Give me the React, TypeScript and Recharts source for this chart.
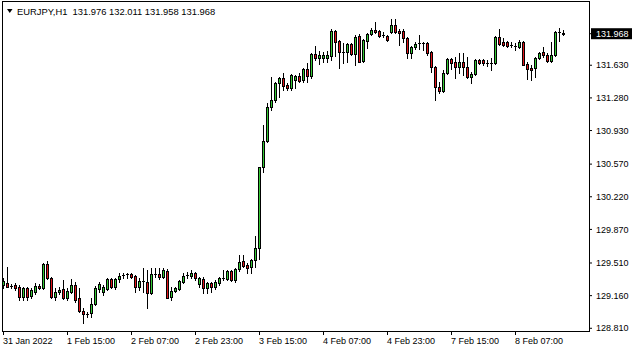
import React from "react"
import { ComposedChart, Bar, XAxis, YAxis } from "recharts"

// EURJPY H1 candles, oldest first (31 Jan 23:00 .. 8 Feb 19:00)
const opens = [
  129.274, 129.296, 129.264, 129.274, 129.253, 129.146, 129.242, 129.157, 129.199, 129.264,
  129.242, 129.499, 129.349, 129.146, 129.199, 129.232, 129.135, 129.199, 129.274, 129.135,
  128.996, 128.964, 128.974, 129.071, 129.232, 129.199, 129.232, 129.339, 129.253, 129.339,
  129.382, 129.392, 129.392, 129.371, 129.253, 129.317, 129.307, 129.189, 129.392, 129.392,
  129.360, 129.424, 129.146, 129.210, 129.232, 129.307, 129.382, 129.371, 129.403, 129.285,
  129.339, 129.242, 129.296, 129.253, 129.296, 129.349, 129.339, 129.424, 129.328, 129.446,
  129.532, 129.489, 129.467, 129.542, 129.671, 130.539, 130.818, 131.182, 131.257, 131.439,
  131.493, 131.418, 131.386, 131.472, 131.514, 131.472, 131.589, 131.514, 131.750, 131.707,
  131.707, 131.707, 131.729, 131.997, 131.890, 131.772, 131.772, 131.857, 131.750, 131.943,
  131.675, 131.890, 131.965, 132.007, 131.997, 131.954, 131.943, 131.986, 132.061, 131.997,
  131.997, 131.922, 131.761, 131.825, 131.868, 131.868, 131.868, 131.772, 131.611, 131.397,
  131.354, 131.547, 131.697, 131.665, 131.611, 131.665, 131.611, 131.504, 131.536, 131.686,
  131.686, 131.654, 131.654, 131.654, 131.932, 131.879, 131.879, 131.847, 131.836, 131.825,
  131.879, 131.643, 131.600, 131.600, 131.707, 131.772, 131.740, 131.675, 131.740, 131.986,
  131.976,
]
const highs = [
  129.349, 129.467, 129.285, 129.296, 129.274, 129.253, 129.253, 129.242, 129.296, 129.285,
  129.510, 129.532, 129.360, 129.242, 129.253, 129.328, 129.242, 129.339, 129.307, 129.242,
  129.028, 128.985, 129.135, 129.264, 129.307, 129.274, 129.349, 129.349, 129.349, 129.403,
  129.403, 129.403, 129.403, 129.382, 129.349, 129.457, 129.435, 129.457, 129.457, 129.457,
  129.457, 129.446, 129.253, 129.253, 129.328, 129.403, 129.414, 129.435, 129.414, 129.360,
  129.360, 129.307, 129.307, 129.328, 129.360, 129.435, 129.435, 129.435, 129.457, 129.596,
  129.596, 129.510, 129.553, 129.800, 130.539, 130.989, 131.225, 131.504, 131.450, 131.504,
  131.547, 131.439, 131.536, 131.525, 131.547, 131.600, 131.654, 131.761, 131.836, 131.782,
  131.772, 131.782, 132.018, 132.007, 131.900, 131.868, 131.868, 131.868, 131.954, 131.965,
  131.911, 131.975, 132.029, 132.093, 132.007, 131.986, 131.954, 132.125, 132.125, 132.018,
  132.018, 131.932, 131.836, 131.879, 131.954, 131.879, 131.879, 131.782, 131.622, 131.450,
  131.579, 131.707, 131.707, 131.718, 131.761, 131.761, 131.718, 131.557, 131.697, 131.697,
  131.697, 131.686, 131.707, 131.943, 132.018, 131.922, 131.890, 131.879, 131.868, 131.900,
  131.890, 131.665, 131.632, 131.718, 131.772, 131.825, 131.761, 131.879, 131.997, 132.029,
  132.011,
]
const lows = [
  129.242, 129.253, 129.242, 129.221, 129.114, 129.114, 129.114, 129.135, 129.178, 129.232,
  129.232, 129.339, 129.135, 129.114, 129.178, 129.124, 129.114, 129.189, 129.092, 128.985,
  128.867, 128.931, 128.931, 129.060, 129.199, 129.167, 129.221, 129.242, 129.232, 129.307,
  129.349, 129.349, 129.349, 129.199, 129.221, 129.199, 129.028, 129.178, 129.360, 129.339,
  129.349, 129.135, 129.114, 129.199, 129.221, 129.296, 129.349, 129.349, 129.328, 129.253,
  129.189, 129.189, 129.199, 129.232, 129.274, 129.328, 129.328, 129.317, 129.307, 129.424,
  129.467, 129.403, 129.403, 129.467, 129.553, 130.486, 130.807, 131.150, 131.236, 131.289,
  131.364, 131.364, 131.364, 131.386, 131.450, 131.450, 131.450, 131.493, 131.686, 131.643,
  131.665, 131.665, 131.686, 131.729, 131.600, 131.654, 131.665, 131.740, 131.632, 131.665,
  131.665, 131.815, 131.954, 131.975, 131.932, 131.932, 131.890, 131.975, 131.975, 131.847,
  131.879, 131.707, 131.707, 131.804, 131.804, 131.793, 131.740, 131.557, 131.257, 131.332,
  131.343, 131.536, 131.589, 131.493, 131.547, 131.525, 131.493, 131.439, 131.525, 131.643,
  131.632, 131.622, 131.579, 131.643, 131.847, 131.836, 131.825, 131.825, 131.793, 131.815,
  131.632, 131.482, 131.472, 131.504, 131.697, 131.718, 131.665, 131.665, 131.729, 131.890,
  131.958,
]
const closes = [
  129.317, 129.253, 129.262, 129.242, 129.146, 129.242, 129.146, 129.221, 129.264, 129.242,
  129.499, 129.349, 129.146, 129.199, 129.221, 129.135, 129.210, 129.274, 129.114, 128.996,
  128.964, 128.962, 129.071, 129.242, 129.285, 129.253, 129.339, 129.253, 129.339, 129.371,
  129.380, 129.390, 129.360, 129.253, 129.317, 129.315, 129.189, 129.392, 129.390, 129.360,
  129.435, 129.135, 129.210, 129.242, 129.317, 129.371, 129.380, 129.403, 129.349, 129.349,
  129.242, 129.296, 129.253, 129.307, 129.349, 129.347, 129.424, 129.328, 129.446, 129.521,
  129.478, 129.457, 129.542, 129.671, 130.539, 130.818, 131.182, 131.257, 131.439, 131.493,
  131.407, 131.386, 131.525, 131.514, 131.461, 131.589, 131.514, 131.750, 131.707, 131.740,
  131.740, 131.740, 131.997, 131.879, 131.772, 131.770, 131.857, 131.750, 131.932, 131.665,
  131.900, 131.965, 132.007, 131.986, 131.943, 131.952, 131.900, 132.061, 131.986, 131.975,
  131.922, 131.761, 131.825, 131.857, 131.866, 131.866, 131.761, 131.611, 131.397, 131.354,
  131.547, 131.697, 131.654, 131.611, 131.665, 131.611, 131.504, 131.536, 131.686, 131.654,
  131.654, 131.652, 131.652, 131.932, 131.857, 131.847, 131.836, 131.845, 131.834, 131.879,
  131.632, 131.589, 131.579, 131.707, 131.761, 131.740, 131.675, 131.740, 131.986, 131.984,
  131.968,
]

const timeTicks = [0, 16, 32, 48, 64, 80, 96, 112, 128]
const timeLabels = [
  "31 Jan 2022", "1 Feb 15:00", "2 Feb 07:00", "2 Feb 23:00", "3 Feb 15:00",
  "4 Feb 07:00", "4 Feb 23:00", "7 Feb 15:00", "8 Feb 07:00",
]
const priceTicks = [128.81, 129.16, 129.51, 129.87, 130.22, 130.57, 130.93, 131.28, 131.63]

const symbol = "EURJPY,H1"
const FONT = "'Liberation Sans', Arial, sans-serif"
const BULL = "#34c934"
const BEAR = "#e0141a"

const rows = opens.map((open, i) => ({
  i, open, high: highs[i], low: lows[i], close: closes[i],
}))
const last = rows[rows.length - 1]

function Candle(props: any) {
  const { x, y, width, height, payload } = props
  const { open, close, high, low } = payload
  const top = Math.min(y, y + height)
  const h = Math.abs(height)
  const py = (p: number) => top + ((high - p) / (high - low)) * h
  const cx = Math.floor(x + width / 2) + 0.5
  const oy = py(open)
  const cy = py(close)
  const b0 = Math.round(Math.min(oy, cy))
  const b1 = Math.round(Math.max(oy, cy))
  return (
    <g>
      <line x1={cx} x2={cx} y1={Math.round(top)} y2={Math.round(top + h) + 1} stroke="#000" />
      {b1 - b0 < 1 ? (
        <line x1={cx - 1.5} x2={cx + 1.5} y1={b0 + 0.5} y2={b0 + 0.5} stroke="#000" />
      ) : (
        <rect x={cx - 1} y={b0 + 0.5} width={2} height={b1 - b0} fill={close > open ? BULL : BEAR} stroke="#000" />
      )}
    </g>
  )
}

function TimeTick(props: any) {
  const { x, y, payload } = props
  const label = timeLabels[timeTicks.indexOf(payload.value)]
  return (
    <text x={Math.floor(x)} y={y} dy="0.71em" textAnchor="start" fontSize={9} fontFamily={FONT} fill="#000">
      {label}
    </text>
  )
}

function PriceTick(props: any) {
  const { x, y, payload } = props
  const v = payload.value
  const isLast = v === last.close
  return (
    <g>
      {isLast && <rect x={x - 5} y={y - 5.5} width={41} height={11} fill="#000" />}
      <text x={x} y={y} dy="0.355em" textAnchor="start" fontSize={9} fontFamily={FONT} fill={isLast ? "#fff" : "#000"}>
        {v.toFixed(3)}
      </text>
    </g>
  )
}

export default function App() {
  return (
    <div style={{ position: "relative", width: 635, height: 352, background: "#fff" }}>
      <style>{`body{margin:0}`}</style>
      <ComposedChart width={635} height={352} data={rows} margin={{ top: 2, right: 0, bottom: 0, left: 2 }}>
        <XAxis
          dataKey="i"
          type="number"
          domain={[-0.375, 146.375]}
          allowDataOverflow
          ticks={timeTicks}
          interval={0}
          height={21}
          axisLine={false}
          tickLine={{ stroke: "#000" }}
          tickSize={4}
          tickMargin={3}
          tick={<TimeTick />}
        />
        <YAxis
          orientation="right"
          type="number"
          domain={[128.781, 132.308]}
          allowDataOverflow
          ticks={[...priceTicks, last.close]}
          interval={0}
          width={46}
          axisLine={false}
          tickLine={{ stroke: "#000" }}
          tickSize={3}
          tickMargin={4}
          tick={<PriceTick />}
        />
        <Bar
          dataKey={(d: any) => [d.low, d.high]}
          barSize={4}
          shape={<Candle />}
          isAnimationActive={false}
        />
      </ComposedChart>
      <div
        style={{
          position: "absolute", left: 2, top: 1, width: 588, height: 331,
          border: "1px solid #000", boxSizing: "border-box", pointerEvents: "none",
        }}
      />
      <svg width={300} height={20} style={{ position: "absolute", left: 0, top: 0 }}>
        <polygon points="7,9 12.5,9 9.75,13" fill="#000" />
        <text x={17} y={15} fontSize={9.4} fontFamily={FONT} fill="#000" style={{ whiteSpace: "pre" }}>
          {`${symbol}  ${last.open.toFixed(3)} ${last.high.toFixed(3)} ${last.low.toFixed(3)} ${last.close.toFixed(3)}`}
        </text>
      </svg>
    </div>
  )
}
